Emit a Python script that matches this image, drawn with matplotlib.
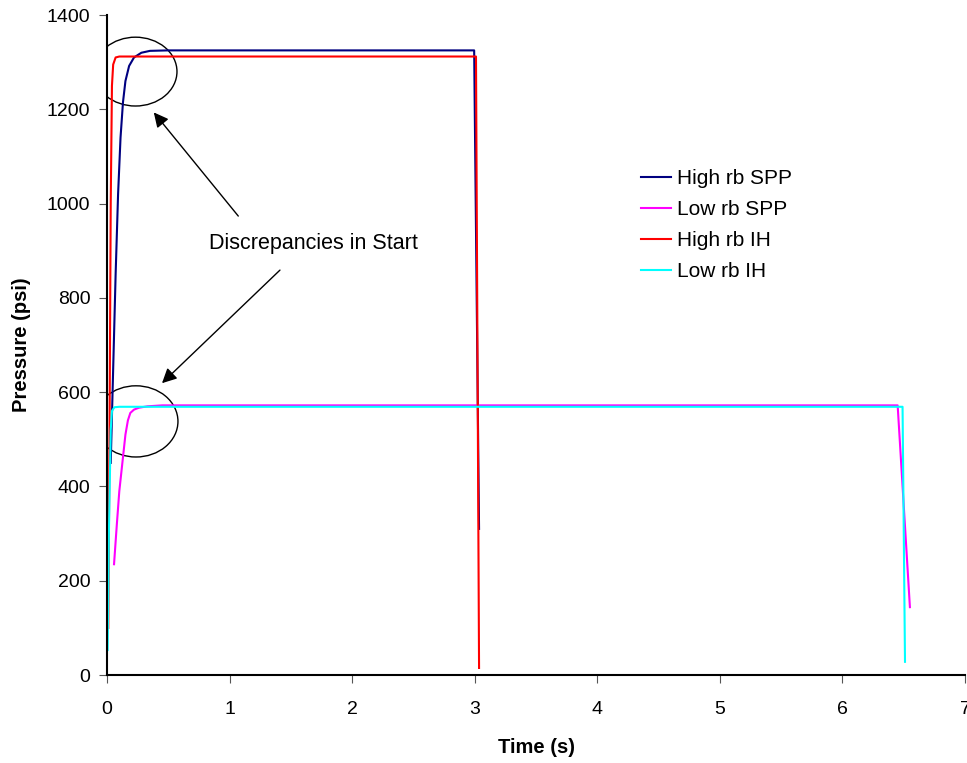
import matplotlib
matplotlib.use('Agg')
import matplotlib.pyplot as plt
from matplotlib.patches import Ellipse

plt.rcParams['font.family'] = ['Liberation Sans', 'DejaVu Sans']

# values
high_spp_t = [0.03, 0.05, 0.07, 0.09, 0.11, 0.13, 0.15, 0.18, 0.22, 0.28, 0.35, 0.5, 2.995, 3.035]
high_spp_p = [450, 650, 850, 1020, 1140, 1215, 1260, 1292, 1310, 1320, 1324, 1325, 1325, 310]

low_spp_t = [0.057, 0.08, 0.10, 0.13, 0.15, 0.17, 0.19, 0.22, 0.26, 0.33, 0.45, 6.45, 6.55]
low_spp_p = [235, 320, 390, 462, 510, 540, 556, 563, 567, 570, 572, 572, 144]

high_ih_t = [0.01, 0.02, 0.03, 0.04, 0.05, 0.07, 0.10, 3.01, 3.035]
high_ih_p = [100, 500, 1000, 1250, 1295, 1310, 1312, 1312, 15]

low_ih_t = [0.005, 0.015, 0.03, 0.04, 0.06, 0.10, 6.49, 6.51]
low_ih_p = [53, 300, 520, 560, 568, 569, 569, 28]

fig = plt.figure(figsize=(9.67, 7.63), dpi=100)
ax = fig.add_axes([0.1107, 0.1153, 0.8873, 0.865])

ax.plot(high_spp_t, high_spp_p, color='#000080', lw=1.5, label='High rb SPP')
ax.plot(low_spp_t, low_spp_p, color='#ff00ff', lw=1.5, label='Low rb SPP')
ax.plot(high_ih_t, high_ih_p, color='#ff0000', lw=1.5, label='High rb IH')
ax.plot(low_ih_t, low_ih_p, color='#00ffff', lw=1.5, label='Low rb IH')

ax.set_xlim(0, 7)
ax.set_ylim(0, 1400)
ax.set_xticks(range(0, 8))
ax.set_yticks(range(0, 1401, 200))
for s in ['top', 'right']:
    ax.spines[s].set_visible(False)
ax.spines['left'].set_linewidth(1.5)
ax.spines['bottom'].set_linewidth(1.5)
ax.tick_params(direction='out', length=6, labelsize=14, color='#555555')
ax.tick_params(axis='x', pad=13)
ax.tick_params(axis='y', pad=6)

ax.set_xlabel('Time (s)', fontsize=14.5, fontweight='bold', labelpad=14)
ax.set_ylabel('Pressure (psi)', fontsize=14.5, fontweight='bold', labelpad=11)

ax.add_patch(Ellipse((0.232, 1280), 0.677, 146, fill=False, ec='black', lw=1))
ax.add_patch(Ellipse((0.236, 538), 0.685, 151, fill=False, ec='black', lw=1))

ax.text(1.68, 916, 'Discrepancies in Start', fontsize=15.5, ha='center', va='center')
ax.annotate('', xy=(0.367, 1198), xytext=(1.085, 969),
            arrowprops=dict(arrowstyle='-|>', color='black', lw=1, mutation_scale=22))
ax.annotate('', xy=(0.432, 615), xytext=(1.427, 863),
            arrowprops=dict(arrowstyle='-|>', color='black', lw=1, mutation_scale=22))

ax.legend(loc='upper left', bbox_to_anchor=(0.6, 0.795), frameon=False, fontsize=15,
          handlelength=1.45, labelspacing=0.58, handletextpad=0.3)

fig.savefig('out.png', dpi=100)
